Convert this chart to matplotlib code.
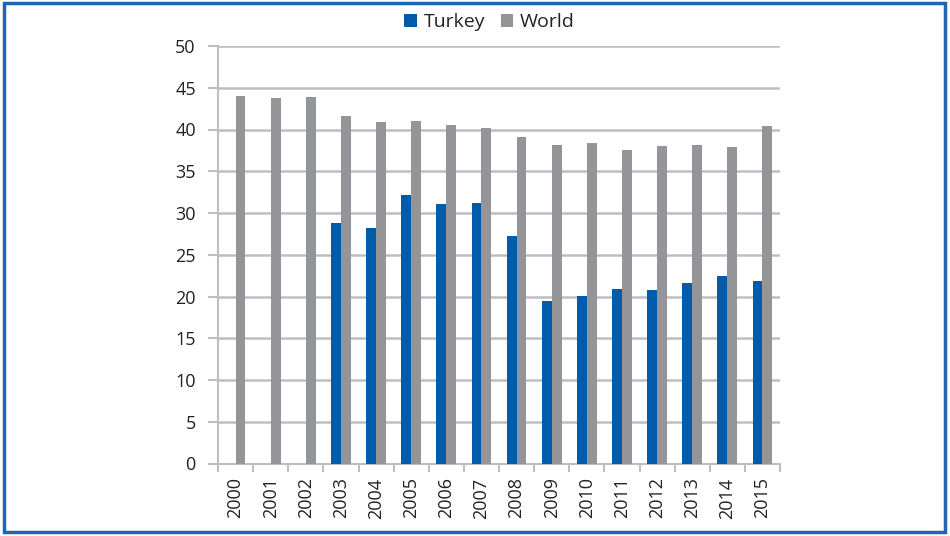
import matplotlib
matplotlib.use("Agg")
import matplotlib.pyplot as plt
import numpy as np
from matplotlib.patches import Rectangle

years = ["2000", "2001", "2002", "2003", "2004", "2005", "2006", "2007",
         "2008", "2009", "2010", "2011", "2012", "2013", "2014", "2015"]
turkey = [np.nan, np.nan, np.nan, 28.8, 28.2, 32.2, 31.1, 31.2,
          27.2, 19.5, 20.1, 20.9, 20.8, 21.6, 22.4, 21.9]
world = [44.0, 43.8, 43.9, 41.6, 40.9, 41.0, 40.5, 40.2,
         39.1, 38.1, 38.4, 37.5, 38.0, 38.1, 37.9, 40.4]
yticks = [0, 5, 10, 15, 20, 25, 30, 35, 40, 45, 50]

plt.rcParams['font.family'] = ['Open Sans', 'DejaVu Sans']

fig = plt.figure(figsize=(9.5, 5.36), dpi=100)
ax = fig.add_axes([218/950, 1-463.5/536, (780-218)/950, (463.5-46)/536])

x = np.arange(len(years))
w = 0.28
ax.bar(x - w/2, turkey, width=w, color="#005BAA", label="Turkey", zorder=3)
ax.bar(x + w/2, world, width=w, color="#939598", label="World", zorder=3)

ax.set_xlim(-0.5, len(years) - 0.5)
ax.set_ylim(0, 50)
ax.set_yticks(yticks)
ax.set_yticklabels([str(v) for v in yticks], fontsize=13, color="#222222")
ax.yaxis.grid(True, color="#BEBEC2", linewidth=1.8, zorder=0)
ax.set_axisbelow(True)

ax.set_xticks(np.arange(-0.5, len(years), 1.0), minor=False)
ax.set_xticklabels([""] * (len(years) + 1))
ax.set_xticks(x, minor=True)
ax.set_xticklabels(years, minor=True, rotation=90, fontsize=13, color="#222222")
ax.tick_params(axis="x", which="major", length=6, color="#BEBEC2", width=1.5)
ax.tick_params(axis="x", which="minor", length=0, pad=10)
ax.tick_params(axis="y", length=7, color="#BEBEC2", width=1.5, pad=9)

for s in ["top", "right"]:
    ax.spines[s].set_visible(False)
ax.spines["left"].set_color("#BEBEC2")
ax.spines["left"].set_linewidth(1.5)
ax.spines["bottom"].set_color("#BEBEC2")
ax.spines["bottom"].set_linewidth(1.5)

leg = fig.legend(loc="center", bbox_to_anchor=(489.5/950, 1-22/536), ncol=2, frameon=False,
                 fontsize=14, handlelength=0.65, handleheight=0.65, handletextpad=0.35,
                 columnspacing=0.8)
for t in leg.get_texts():
    t.set_color("#222222")

fig.patches.append(Rectangle((4/950, 4/536), 941/950, 529/536, transform=fig.transFigure,
                             fill=False, edgecolor="#1F66B5", linewidth=2.5))

fig.savefig("out.png", dpi=100)
